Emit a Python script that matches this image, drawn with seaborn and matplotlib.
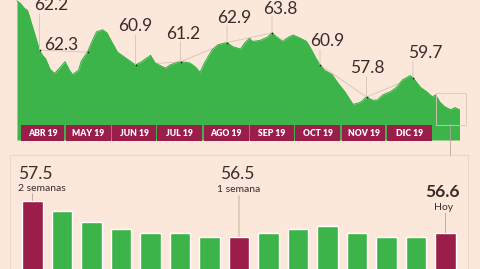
import numpy as np
import pandas as pd
import matplotlib
matplotlib.use("Agg")
import matplotlib.pyplot as plt
import matplotlib.dates as mdates
from matplotlib.patches import Rectangle
import seaborn as sns

# ---------------- data ----------------
day_offsets = [-2, 0, 3, 5, 7, 10, 13, 15, 17, 20, 23, 27, 30, 33, 35, 39, 41, 45, 48, 51,
               55, 58, 61, 65, 70, 74, 77, 81, 87, 90, 94, 97, 100, 104, 107, 113, 117, 120,
               123, 128, 132, 138, 142, 147, 150, 153, 155, 160, 165, 168, 171, 175, 179,
               182, 187, 191, 194, 197, 200, 203, 208, 212, 217, 222, 227, 231, 235, 238,
               242, 247, 251, 255, 260, 262, 267, 271, 275, 277, 280, 283, 287, 290, 293]
values = [66.8, 66.6, 66.1, 65.9, 65.0, 63.6, 62.2, 61.7, 61.4, 60.4, 60.0, 60.6, 61.1,
          60.3, 59.9, 60.3, 61.2, 62.0, 63.0, 63.9, 64.1, 63.8, 63.0, 62.0, 61.5, 61.1,
          60.8, 61.1, 61.7, 61.0, 60.7, 60.5, 60.8, 61.0, 61.1, 61.0, 60.6, 60.1, 61.0,
          62.2, 62.7, 62.9, 62.5, 62.3, 62.9, 63.3, 63.0, 63.1, 63.4, 63.8, 63.4, 63.0,
          63.4, 63.6, 63.3, 63.0, 62.3, 61.5, 60.8, 60.3, 59.9, 59.1, 58.2, 57.1, 57.3,
          57.8, 57.5, 57.5, 58.0, 58.3, 58.7, 59.4, 59.8, 59.6, 58.7, 58.3, 57.8, 58.0,
          57.3, 56.9, 56.6, 56.8, 56.6]
base_date = pd.Timestamp("2019-04-01")
dates = base_date + pd.to_timedelta(day_offsets, unit="D")

month_labels = ["ABR 19", "MAY 19", "JUN 19", "JUL 19", "AGO 19",
                "SEP 19", "OCT 19", "NOV 19", "DIC 19"]

anno_days = [13, 45, 77, 107, 138, 168, 200, 231, 262]
anno_labels = ["62.2", "62.3", "60.9", "61.2", "62.9", "63.8", "60.9", "57.8", "59.7"]

bar_values = [57.5, 57.2, 56.9, 56.7, 56.6, 56.6, 56.5, 56.5, 56.6, 56.7, 56.8,
              56.6, 56.5, 56.5, 56.6]
bar_kind = ["hito", "dia", "dia", "dia", "dia", "dia", "dia", "hito", "dia", "dia",
            "dia", "dia", "dia", "dia", "hito"]
bar_value_labels = {0: ("57.5", "2 semanas"), 7: ("56.5", "1 semana"), 14: ("56.6", "Hoy")}

# ---------------- style ----------------
BG = "#fce8da"
GREEN = "#3cb44a"
MAROON = "#9b1d4a"
TXT = "#3a2b2b"
FAINT = "#dcc6ba"

sns.set_theme(style="white", rc={"figure.facecolor": BG, "axes.facecolor": BG})
plt.rcParams["font.family"] = ["Lato", "DejaVu Sans"]

W, H = 480, 269
fig = plt.figure(figsize=(W / 100, H / 100), dpi=100)

# ---------------- top area chart ----------------
ax = fig.add_axes([0, 1 - 140 / H, 1, 140 / H])
ax.set_facecolor(BG)
x0 = mdates.date2num(base_date)
ax.set_xlim(x0 - 20 / 1.5, x0 + 460 / 1.5)
ymin, ymax = 53.77, 66.89
ax.set_ylim(ymin, ymax)

df = pd.DataFrame({"fecha": dates, "valor": values})
sns.lineplot(data=df, x="fecha", y="valor", ax=ax, color=GREEN, lw=0.8, zorder=3)
ax.fill_between(df["fecha"], df["valor"], ymin, color=GREEN, lw=0, zorder=3)

# annotation anchors on the curve
anno_dates = base_date + pd.to_timedelta(anno_days, unit="D")
anno_vals = np.interp(anno_days, day_offsets, values)
ax.plot(anno_dates, anno_vals, color=FAINT, lw=0.7, zorder=2)
ax.scatter(anno_dates, anno_vals, s=1.6, color="#222222", zorder=5, lw=0)

text_offsets = [(12, 45), (-26, 7), (0, 39), (3, 28), (7, 25), (8, 24), (7, 24), (1, 29), (12, 25)]
line_lens = [36, 0, 30, 20, 17, 16, 15, 20, 16]
for d, v, lab, (dx, dy), ll in zip(anno_dates, anno_vals, anno_labels, text_offsets, line_lens):
    if ll:
        ax.annotate("", xy=(d, v), xytext=(0, ll), textcoords="offset pixels",
                    arrowprops=dict(arrowstyle="-", color=FAINT, lw=0.7,
                                    shrinkA=0, shrinkB=0), zorder=4)
    ax.annotate(lab, xy=(d, v), xytext=(dx, dy), textcoords="offset pixels",
                ha="center", va="center", fontsize=12.5, color=TXT, zorder=6)

# month boxes
months = pd.date_range("2019-04-01", periods=len(month_labels) + 1, freq="MS")
trans = ax.get_xaxis_transform()
for i, lab in enumerate(month_labels):
    a = mdates.date2num(months[i]) + 0.4
    b = mdates.date2num(months[i + 1]) - 0.4
    ax.add_patch(Rectangle((a, -0.01), b - a, 0.118, transform=trans,
                           facecolor=MAROON, edgecolor="none", zorder=7, clip_on=False))
    ax.text((a + b) / 2, 0.05, lab, transform=trans, ha="center", va="center",
            color="white", fontsize=6.2, fontweight="heavy", zorder=8)

# zoom box on the last days
zs = dates[-1] - pd.Timedelta(days=16)
ze = dates[-1] + pd.Timedelta(days=4)
ax.add_patch(Rectangle((mdates.date2num(zs), 55.2), mdates.date2num(ze) - mdates.date2num(zs),
                       3.0, facecolor="none", edgecolor=FAINT, lw=0.6, zorder=6))

ax.set_axis_off()

# ---------------- bottom bars ----------------
bx = fig.add_axes([10 / W, 0, 458 / W, 114 / H])
bx.set_facecolor(BG)
bdf = pd.DataFrame({"dia": list(range(len(bar_values))), "valor": bar_values, "tipo": bar_kind})
sns.barplot(data=bdf, x="dia", y="valor", hue="tipo", palette={"hito": MAROON, "dia": GREEN},
            dodge=False, width=0.71, legend=False, ax=bx, saturation=1, zorder=3)
bx.set_xlim(-0.7627, 14.763)
bx.set_ylim(55.6, 58.767)
for s in ["top", "left", "right"]:
    bx.spines[s].set_color("#ead6ca")
    bx.spines[s].set_linewidth(0.8)
bx.spines["bottom"].set_visible(False)
bx.set_xticks([])
bx.set_yticks([])
bx.set_xlabel("")
bx.set_ylabel("")

lab_layout = {0: dict(ha="left", dx=-14.5, dy1=27, dy2=12, ll=7, bold=False),
              7: dict(ha="center", dx=-2, dy1=63, dy2=47, ll=41, bold=False),
              14: dict(ha="center", dx=-3.5, dy1=41, dy2=26, ll=20, bold=True)}
for i, (big, small) in bar_value_labels.items():
    L = lab_layout[i]
    v = bar_values[i]
    bx.annotate("", xy=(i, v), xytext=(0, L["ll"]), textcoords="offset pixels",
                arrowprops=dict(arrowstyle="-", color="#b8a49a", lw=0.6, shrinkA=0, shrinkB=0))
    bx.annotate(big, xy=(i, v), xytext=(L["dx"], L["dy1"]), textcoords="offset pixels",
                ha=L["ha"], va="center", fontsize=12.5, color=TXT,
                fontweight="bold" if L["bold"] else "normal")
    bx.annotate(small, xy=(i, v), xytext=(L["dx"] + (0 if L["ha"] == "left" else 2), L["dy2"]),
                textcoords="offset pixels", ha=L["ha"], va="center", fontsize=7.5, color=TXT)

# connector from the zoom box down to the bar panel
fig.add_artist(plt.Line2D([450 / W, 450 / W], [1 - 124 / H, 1 - 155 / H],
                          color="#b8a49a", lw=0.6))

fig.savefig("out.png", dpi=100, facecolor=BG)
